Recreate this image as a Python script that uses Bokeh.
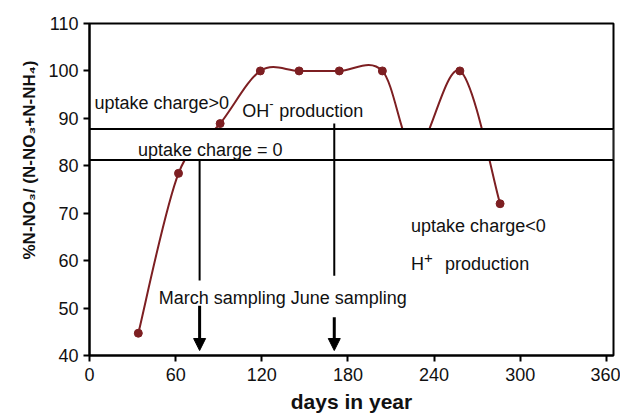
from bokeh.plotting import figure
from bokeh.models import Range1d, FixedTicker, Arrow, NormalHead, Label, Title
from bokeh.embed import file_html
from bokeh.resources import INLINE
import numpy as np

# ---- data ----
days = [34, 62, 91, 119, 146, 174, 204, 227, 258, 286]
pct_no3 = [44.7, 78.4, 88.9, 100, 100, 100, 100, 83, 100, 72]

x_ticks = [0, 60, 120, 180, 240, 300, 360]
y_ticks = [40, 50, 60, 70, 80, 90, 100, 110]

band_bottom = 81.24   # "uptake charge = 0" band
band_top = 87.77
march_day = 76.7
june_day = 170.5

FONT = "Liberation Sans"
RED = "#7d1f22"

p = figure(width=620, height=415, output_backend="svg", toolbar_location=None,
           x_range=Range1d(0, 365), y_range=Range1d(40, 110),
           min_border_left=89, min_border_right=7, min_border_top=23, min_border_bottom=60)
p.grid.visible = False
p.outline_line_color = "black"
p.outline_line_width = 2
p.background_fill_color = "white"
p.border_fill_color = "white"

for ax, ticks in ((p.xaxis[0], x_ticks), (p.yaxis[0], y_ticks)):
    ax.ticker = FixedTicker(ticks=ticks)
    ax.minor_tick_line_color = None
    ax.major_tick_in = 0
    ax.major_tick_out = 6
    ax.major_tick_line_width = 2
    ax.axis_line_width = 2
    ax.axis_line_color = "black"
    ax.major_tick_line_color = "black"
    ax.major_label_text_font = FONT
    ax.major_label_text_font_size = "18px"
    ax.major_label_text_color = "#111111"
    ax.axis_label_text_font = FONT
    ax.axis_label_text_font_style = "bold"
    ax.axis_label_text_color = "#111111"

p.xaxis.axis_label = "days in year"
p.xaxis.axis_label_text_font_size = "21px"
p.xaxis.axis_label_standoff = 6
p.xaxis.major_label_standoff = 6
p.yaxis.major_label_standoff = 5

# y-axis title, placed (like the original) above the frame's centre
p.add_layout(Title(text="%N-NO\u2083/ (N-NO\u2083+N-NH\u2084)", align="right", offset=37,
                   text_font=FONT, text_font_size="17px", text_font_style="bold",
                   text_color="#111111", standoff=13), "left")

# ---- smoothed line (Bezier through the data points) ----
P = np.column_stack([days, pct_no3]).astype(float)
n = len(P)
ext = np.vstack([P[0], P, P[-1]])
prev = ext[0:n - 1]
nxt = ext[3:n + 2]
c0 = P[:-1] + (P[1:] - prev) / 6.0
c1 = P[1:] - (nxt - P[:-1]) / 6.0
p.bezier(x0=P[:-1, 0], y0=P[:-1, 1], x1=P[1:, 0], y1=P[1:, 1],
         cx0=c0[:, 0], cy0=c0[:, 1], cx1=c1[:, 0], cy1=c1[:, 1],
         line_color=RED, line_width=2)
p.scatter(days, pct_no3, size=8, color=RED)

# ---- "uptake charge = 0" band ----
p.quad(left=[0], right=[365], bottom=[band_bottom], top=[band_top],
       fill_color="white", line_color="black", line_width=2)

# sampling lines
p.segment(x0=[march_day, june_day], y0=[band_bottom, 88.9],
          x1=[march_day, june_day], y1=[55.8, 56.8],
          line_color="black", line_width=2)
for d, ys in ((march_day, 50.5), (june_day, 48.05)):
    p.add_layout(Arrow(end=NormalHead(size=12, fill_color="black", line_color="black"),
                       x_start=d, y_start=ys, x_end=d, y_end=41.05,
                       line_color="black", line_width=3))

def lab(x, y, text, align="left", size="18px", xo=0, yo=0):
    p.add_layout(Label(x=x, y=y, text=text, text_font=FONT, text_font_size=size,
                       text_color="#111111", text_align=align,
                       text_baseline="alphabetic", x_offset=xo, y_offset=yo))

lab(3.5, 93.2, "uptake charge>0")
lab(84.1, 83.4, "uptake charge = 0", align="center")
lab(106.4, 91.6, "OH")
lab(106.4, 91.6, "-", size="13px", xo=27, yo=7)
lab(106.4, 91.6, "production", xo=37)
lab(48.2, 52.1, "March sampling June sampling")
lab(224, 67.4, "uptake charge<0")
lab(224, 59.3, "H")
lab(224, 59.3, "+", size="15px", xo=13, yo=6)
lab(224, 59.3, "production", xo=34)

open("out.html", "w").write(file_html(p, INLINE))
